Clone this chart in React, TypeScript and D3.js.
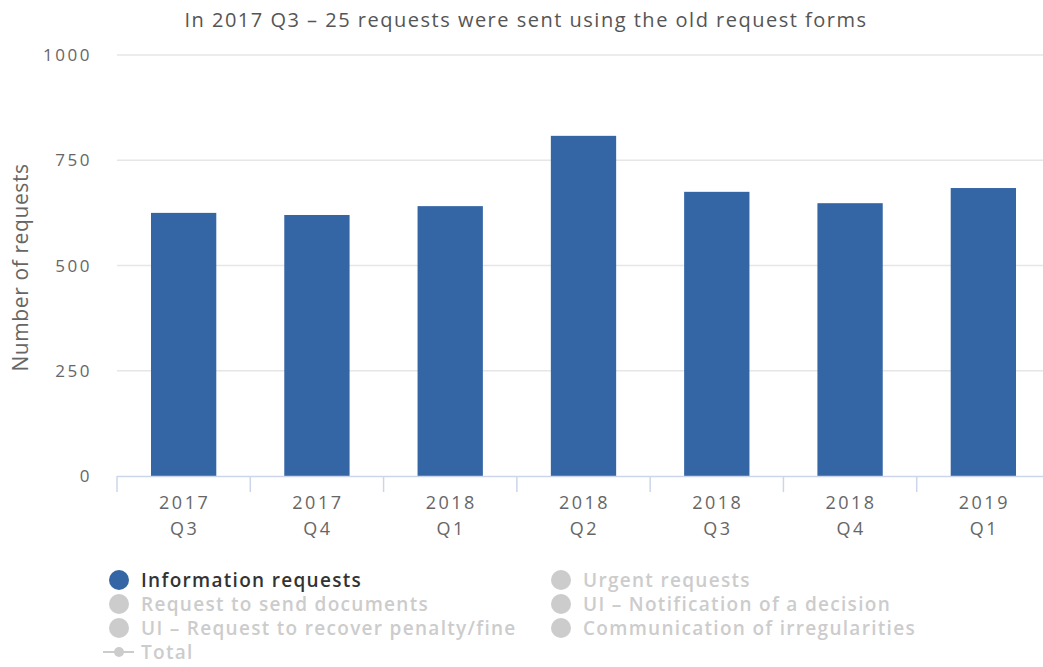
import React from "react";
import * as d3 from "d3";

const categories = [
  ["2017", "Q3"],
  ["2017", "Q4"],
  ["2018", "Q1"],
  ["2018", "Q2"],
  ["2018", "Q3"],
  ["2018", "Q4"],
  ["2019", "Q1"],
];
const informationRequests = [625, 620, 641, 808, 675, 648, 684];
const yTicks = [0, 250, 500, 750, 1000];
const legendItems = [
  { name: "Information requests", active: true, kind: "circle" },
  { name: "Urgent requests", active: false, kind: "circle" },
  { name: "Request to send documents", active: false, kind: "circle" },
  { name: "UI – Notification of a decision", active: false, kind: "circle" },
  { name: "UI – Request to recover penalty/fine", active: false, kind: "circle" },
  { name: "Communication of irregularities", active: false, kind: "circle" },
  { name: "Total", active: false, kind: "line" },
];
const titleText = "In 2017 Q3 – 25 requests were sent using the old request forms";
const yTitle = "Number of requests";

const W = 1043;
const H = 667;
const plotLeft = 117;
const plotRight = 1050;
const plotTop = 55;
const plotBottom = 476;
const barColor = "#3465a5";
const labelFont = "'Open Sans', 'DejaVu Sans', sans-serif";

export default function App() {
  const keys = categories.map((c) => c.join(" "));
  const x = d3
    .scaleBand<string>()
    .domain(keys)
    .range([plotLeft, plotRight])
    .paddingInner(0.51)
    .paddingOuter(0.255);
  const y = d3.scaleLinear().domain([0, 1000]).range([plotBottom, plotTop]);
  const step = x.step();
  const boundaries = d3.range(keys.length + 1).map((i) => plotLeft + i * step);

  return (
    <svg
      width={W}
      height={H}
      style={{ position: "absolute", left: 0, top: 0, background: "#fff" }}
    >
      <text
        x={526}
        y={27}
        textAnchor="middle"
        fontFamily={labelFont}
        fontSize={20}
        letterSpacing={1.5}
        fill="#555"
      >
        {titleText}
      </text>
      {yTicks.map((t) => (
        <g key={t}>
          {t > 0 && (
            <line x1={plotLeft} x2={W} y1={y(t)} y2={y(t)} stroke="#e6e6e6" strokeWidth={1.5} />
          )}
          <text
            x={92}
            y={y(t) + 6}
            textAnchor="end"
            fontFamily={labelFont}
            fontSize={17}
            letterSpacing={2.5}
            fill="#666"
          >
            {t}
          </text>
        </g>
      ))}
      <text
        transform={`translate(28,${(plotTop + plotBottom) / 2 + 2}) rotate(-90)`}
        textAnchor="middle"
        fontFamily={labelFont}
        fontSize={21}
        letterSpacing={0.6}
        fill="#666"
      >
        {yTitle}
      </text>
      {informationRequests.map((v, i) => (
        <rect
          key={i}
          x={x(keys[i])}
          y={y(v)}
          width={x.bandwidth()}
          height={y(0) - y(v)}
          fill={barColor}
        />
      ))}
      <line x1={plotLeft} x2={W} y1={plotBottom + 0.5} y2={plotBottom + 0.5} stroke="#ccd6eb" strokeWidth={1.5} />
      {boundaries.map((b, i) => (
        <line key={i} x1={b} x2={b} y1={plotBottom} y2={plotBottom + 16} stroke="#ccd6eb" strokeWidth={1.5} />
      ))}
      {categories.map((c, i) => {
        const cx = (x(keys[i]) as number) + x.bandwidth() / 2 + 1;
        return (
          <text key={i} textAnchor="middle" fontFamily={labelFont} fontSize={18} letterSpacing={2.5} fill="#666">
            <tspan x={cx} y={509}>{c[0]}</tspan>
            <tspan x={cx} y={535}>{c[1]}</tspan>
          </text>
        );
      })}
      {legendItems.map((item, i) => {
        const col = item.kind === "line" ? 0 : i % 2;
        const row = item.kind === "line" ? 3 : Math.floor(i / 2);
        const sx = col === 0 ? 119 : 561;
        const sy = 580 + row * 24;
        const color = item.active ? barColor : "#cccccc";
        return (
          <g key={item.name}>
            {item.kind === "circle" ? (
              <circle cx={sx} cy={sy} r={10} fill={color} />
            ) : (
              <g>
                <line x1={103} x2={134} y1={sy} y2={sy} stroke="#cccccc" strokeWidth={2} />
                <circle cx={sx} cy={sy} r={5} fill="#cccccc" />
              </g>
            )}
            <text
              x={sx + 22}
              y={sy + 7}
              fontFamily={labelFont}
              fontWeight={600}
              fontSize={19}
              letterSpacing={1.3}
              fill={item.active ? "#333333" : "#cccccc"}
            >
              {item.name}
            </text>
          </g>
        );
      })}
    </svg>
  );
}
